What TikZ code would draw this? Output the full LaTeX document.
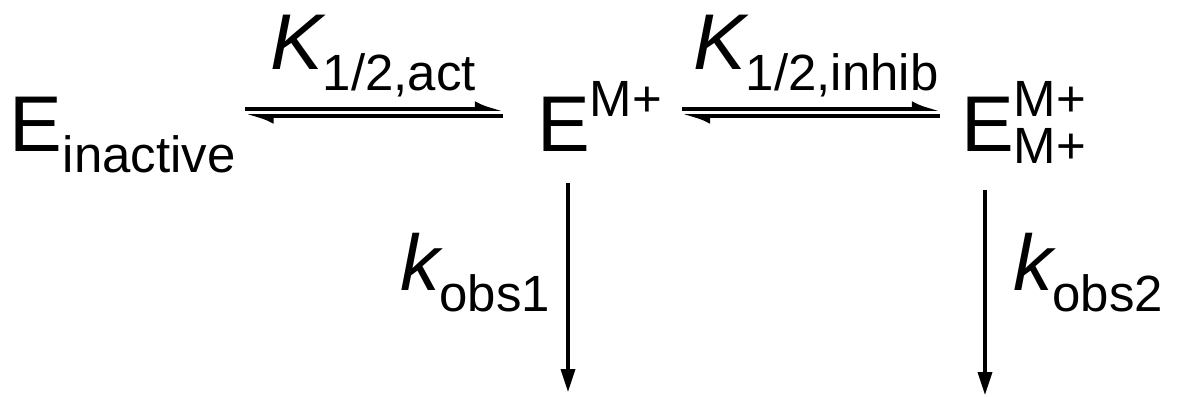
\documentclass[tikz,border=0pt]{standalone}
\usepackage{fontspec}
\setmainfont{Liberation Sans}
\usetikzlibrary{arrows.meta,calc}
\newcommand{\bigsz}{\fontsize{45}{54}\selectfont}
\newcommand{\subsz}{\fontsize{29}{35}\selectfont}
\newcommand{\lowtxt}[2][12pt]{\raisebox{-#1}{\upshape\subsz #2}}
\newcommand{\hightxt}[1]{\raisebox{19.5pt}{\upshape\subsz #1}}
\tikzset{
  species/.style={inner sep=0pt, outer sep=0pt, anchor=base west, font=\bigsz},
  const/.style={inner sep=0pt, outer sep=0pt, anchor=base west, font=\bigsz\itshape},
  fwd/.style={-{Latex[harpoon, length=12pt, width=9pt]}, line width=2pt},
  down/.style={-{Triangle[length=13pt, width=8pt]}, line width=1.8pt},
}

\begin{document}
\begin{tikzpicture}[x=0.02cm, y=-0.02cm]
  \useasboundingbox (0,0) rectangle (1179,396);

  % Species
  \node[species] (Ein) at (10,151) {E\lowtxt{inactive}};
  \node[species] (EM) at (537,151) {E\hightxt{M+}};
  \node[species] (EMM) at (961,151) {E\rlap{\hightxt{M+}}\lowtxt[7pt]{M+}};

  % Constants
  \node[const] (Kact) at (270,69) {K\lowtxt{1/2,act}};
  \node[const] (Kinh) at (693,69) {K\lowtxt{1/2,inhib}};
  \node[const] (kob1) at (400,290) {k\lowtxt{obs1}};
  \node[const] (kob2) at (1013,290) {k\lowtxt{obs2}};

  % Equilibria
  \draw[fwd] ($(Ein.base east)+(10,-42)$) -- ($(EM.base west)+(-34,-42)$);
  \draw[fwd] ($(EM.base west)+(-34,-35)$) -- ($(Ein.base east)+(10,-35)$);
  \draw[fwd] ($(EM.base east)+(20,-42)$) -- ($(EMM.base west)+(-21,-42)$);
  \draw[fwd] ($(EMM.base west)+(-21,-35)$) -- ($(EM.base east)+(20,-35)$);

  % Decay
  \draw[down] ($(EM.base west)+(31,32)$) -- ($(EM.base west)+(31,241)$);
  \draw[down] ($(EMM.base west)+(24,39)$) -- ($(EMM.base west)+(24,244)$);
\end{tikzpicture}
\end{document}
